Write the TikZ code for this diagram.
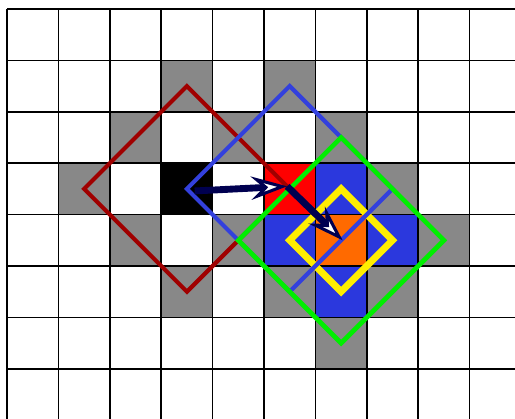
\documentclass[tikz,border=0pt]{standalone}
\usepackage{tikz}
\usetikzlibrary{arrows.meta, calc}
\definecolor{cellGray}{HTML}{888888}
\definecolor{cellBlue}{HTML}{2B38DD}
\definecolor{cellOrange}{HTML}{FF6A00}
\definecolor{frmRed}{HTML}{A00000}
\definecolor{frmBlue}{HTML}{3340DD}
\definecolor{frmGreen}{HTML}{00EE00}
\definecolor{frmYellow}{HTML}{FFEE00}
\definecolor{mNavy}{HTML}{000050}

\begin{document}
\begin{tikzpicture}[
    x=1cm, y=-1cm,
    cell/.style={fill=#1},
    frame/.style={draw=#1, line width=2.3pt, line join=miter},
    move/.style={draw=mNavy, line width=3.8pt,
        -{Stealth[open, length=20pt, width=13pt, inset=7pt, line width=1.7pt, fill=white]}}
]
    \useasboundingbox (-0.136,-0.175) rectangle (9.883,7.957);
    \clip (-0.136,-0.175) rectangle (9.883,7.957);

    % cell fills (col/row)
    \foreach \c/\r in {3/1, 5/1, 2/2, 4/2, 6/2, 1/3, 7/3, 2/4, 4/4, 8/4, 3/5, 5/5, 7/5, 6/6}
        \fill[cell=cellGray] (\c,\r) rectangle ++(1,1);
    \foreach \c/\r in {6/3, 5/4, 7/4, 6/5}
        \fill[cell=cellBlue] (\c,\r) rectangle ++(1,1);
    \fill[cell=black] (3,3) rectangle ++(1,1);
    \fill[cell=red] (5,3) rectangle ++(1,1);
    \fill[cell=cellOrange] (6,4) rectangle ++(1,1);

    % grid
    \foreach \i in {0,...,10}
        \draw[line width=0.8pt] (\i,0) -- (\i,8.5);
    \foreach \j in {0,...,8}
        \draw[line width=0.8pt] (0,\j) -- (10.5,\j);

    % cell centres
    \coordinate (src) at (3.5,3.5);
    \coordinate (mid) at (5.5,3.5);
    \coordinate (dst) at (6.5,4.5);

    % search windows
    \draw[frame=frmRed] ($(src)+(0,-2)$) -- ($(src)+(2,0)$) -- ($(src)+(0,2)$) -- ($(src)+(-2,0)$) -- cycle;
    \draw[frame=frmYellow, line width=3.8pt] ($(dst)+(0,-1)$) -- ($(dst)+(1,0)$) -- ($(dst)+(0,1)$) -- ($(dst)+(-1,0)$) -- cycle;
    \draw[frame=frmBlue] ($(mid)+(0,-2)$) -- ($(mid)+(2,0)$) -- ($(mid)+(0,2)$) -- ($(mid)+(-2,0)$) -- cycle;
    \draw[frame=frmGreen, line width=2.6pt] ($(dst)+(0,-2)$) -- ($(dst)+(2,0)$) -- ($(dst)+(0,2)$) -- ($(dst)+(-2,0)$) -- cycle;

    % steps
    \draw[move] ($(src)+(0.15,0.04)$) -- ($(mid)+(-0.05,-0.05)$);
    \draw[move] ($(mid)+(-0.05,-0.05)$) -- ($(dst)+(0.03,0)$);
\end{tikzpicture}
\end{document}
